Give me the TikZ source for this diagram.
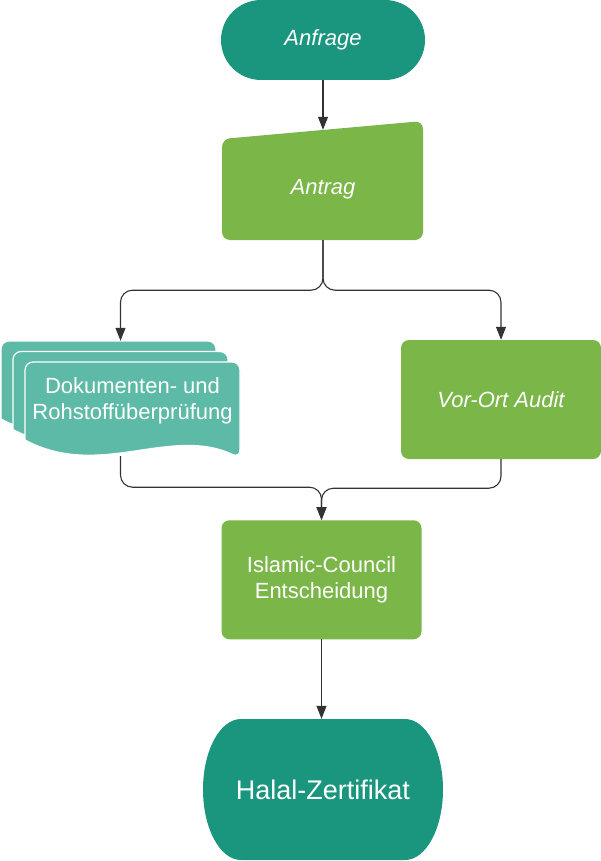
\documentclass[tikz,border=0pt]{standalone}
\usepackage{fontspec}
\setmainfont{Liberation Sans}
\usepackage{tikz}
\usetikzlibrary{arrows.meta,positioning,calc}
\definecolor{halalTeal}{HTML}{1A967E}
\definecolor{halalGreen}{HTML}{7AB648}
\definecolor{halalDoc}{HTML}{5CBAA7}
\definecolor{halalLine}{HTML}{333333}

% one sheet of the document stack, #1 = its top-left corner
\newcommand{\docpage}[1]{%
  \filldraw[docPage, shift={#1}] (0,-78) [rounded corners=8] -- (0,0) -- (215,0) -- (215,-96) [sharp corners]
    .. controls (145,-63) and (75,-118) .. (0,-78) -- cycle;}

\begin{document}
\begin{tikzpicture}[x=1pt, y=1pt,
          termBox/.style={rectangle, rounded corners=40, fill=halalTeal, minimum width=204, minimum height=80, text=white, font=\fontsize{22}{26}\selectfont\itshape},
          procBox/.style={rectangle, rounded corners=8, fill=halalGreen, minimum width=200, minimum height=119, text=white, align=center, font=\fontsize{22}{26}\selectfont},
          docPage/.style={fill=halalDoc, draw=white, line width=1.2},
          boxText/.style={text=white, align=center, font=\fontsize{22}{26}\selectfont},
          flow/.style={-{Triangle[length=13,width=10]}, draw=halalLine, line width=1.1, rounded corners=12}
        ]
          \useasboundingbox (0,0) rectangle (601,-861);
          \node[termBox] (anfrage) at (323,-40) {Anfrage};
          % manual input shape
          \fill[halalGreen, rounded corners=8] (222,-240) -- (222,-139) -- (423,-121) -- (423,-240) -- cycle;
          \node[boxText, font=\fontsize{22}{26}\selectfont\itshape, minimum width=201, minimum height=101] (antrag) at (323,-189.5) {Antrag};
          % document stack
          \docpage{(1,-341)}
          \docpage{(13,-351.5)}
          \docpage{(25,-362)}
          \node[minimum width=239, minimum height=115, inner sep=0] (doc) at (120.5,-398.5) {};
          \node[boxText] (doctxt) at ([xshift=12,yshift=-2]doc.center) {Dokumenten- und\\Rohstoffüberprüfung};
          \node[procBox, font=\fontsize{22}{26}\selectfont\itshape] (audit) at (501,-399.5) {Vor-Ort Audit};
          \node[procBox] (council) at (321.5,-579.75) {Islamic-Council\\Entscheidung};
          % terminal with elliptic ends
          \fill[halalTeal] (241,-719) -- (405,-719) arc[start angle=90, end angle=-90, x radius=38, y radius=70.5]
            -- (241,-860) arc[start angle=270, end angle=90, x radius=38, y radius=70.5] -- cycle;
          \node[boxText, font=\fontsize{27}{32}\selectfont, minimum width=240, minimum height=141] (zert) at (323,-789.5) {Halal-Zertifikat};

          \draw[flow] (anfrage.south) -- ([yshift=9]antrag.north);
          \draw[flow] (antrag.south) -- ++(0,-50) -| (doc.north);
          \draw[flow] (antrag.south) -- ++(0,-50) -| (audit.north);
          \draw[flow] (doc.south) -- ++(0,-31) -| (council.north);
          \draw[flow] (audit.south) -- ++(0,-29) -| (council.north);
          \draw[flow] (council.south) -- (council.south |- zert.north);
        \end{tikzpicture}
\end{document}
